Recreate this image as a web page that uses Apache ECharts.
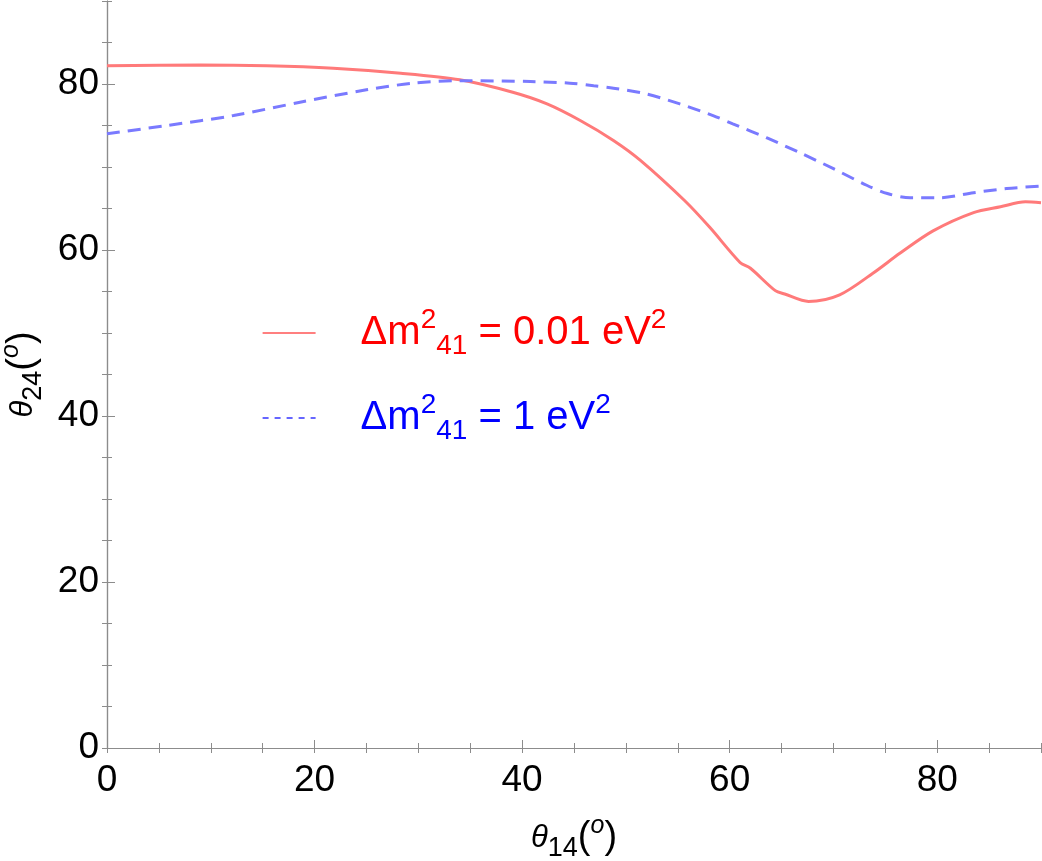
<!DOCTYPE html>
<html>
<head>
<meta charset="utf-8">
<script src="https://cdn.jsdelivr.net/npm/echarts@6/dist/echarts.min.js"></script>
<style>
  html, body { margin: 0; padding: 0; background: #fff; }
  #chart { width: 1042px; height: 861px; }
</style>
</head>
<body>
<div id="chart"></div>
<script>
(function (window, echarts) {
    'use strict';

    // red solid curve, dm41^2 = 0.01 eV^2
    const redX = [0, 9, 15.4, 21.8, 28.3, 34, 39.1, 42.4, 45.6, 48.8, 51.4, 55.7, 58.1, 61, 62, 64.4, 65.3, 67.6, 70.6, 73.8, 76.4, 79.6, 83.5, 86.1, 88.5, 90];
    const redY = [82.2, 82.3, 82.2, 81.9, 81.3, 80.5, 79.0, 77.6, 75.6, 73.2, 70.8, 65.9, 62.7, 58.5, 57.8, 55.1, 54.7, 53.8, 54.6, 57.2, 59.6, 62.3, 64.5, 65.2, 65.8, 65.7];

    // blue dashed curve, dm41^2 = 1 eV^2
    const blueX = [0, 5.8, 12.2, 18.6, 25, 29.5, 34, 40.8, 44.6, 46.9, 48.8, 52, 55.2, 58.4, 60.3, 63.6, 66.8, 70, 73.2, 75.2, 77.4, 80.3, 83.5, 86.7, 90];
    const blueY = [74.0, 75.0, 76.2, 77.8, 79.3, 80.1, 80.4, 80.3, 80.1, 79.8, 79.5, 78.8, 77.6, 76.2, 75.2, 73.5, 71.7, 69.8, 67.8, 66.8, 66.3, 66.3, 66.9, 67.4, 67.7];

    const seriesNames = ['red', 'blue'];
    const legendTexts = ['0.01', '1'];

    const FONT = 'Liberation Sans';
    const AXIS_GREY = '#8c8c8c';

    const pairs = (xs, ys) => xs.map((x, i) => [x, ys[i]]);

    // rich styles for θ_ij(°) axis names
    const nameRich = {
        t: {fontFamily: FONT, fontStyle: 'italic', fontSize: 31, lineHeight: 48},
        p: {fontFamily: FONT, fontSize: 38, lineHeight: 48},
        sub: {fontFamily: FONT, fontSize: 27, lineHeight: 34, verticalAlign: 'bottom'},
        sup: {fontFamily: FONT, fontStyle: 'italic', fontSize: 25, lineHeight: 19, verticalAlign: 'top'}
    };
    const axisName = (idx) => '{t|θ}{sub|' + idx + '}{p|(}{sup|o}{p|)}';

    // rich styles for the legend text
    const legendRich = {
        gap: {width: 40},
        m: {fontFamily: FONT, fontSize: 40, lineHeight: 54},
        sup: {fontFamily: FONT, fontSize: 28, lineHeight: 27, verticalAlign: 'top'},
        sub: {fontFamily: FONT, fontSize: 28, lineHeight: 28, verticalAlign: 'bottom'}
    };
    const legendFormat = (name) => {
        const v = legendTexts[seriesNames.indexOf(name)];
        return '{gap| }{m|Δm}{sup|2}{sub|41}{m| = ' + v + ' eV}{sup|2}';
    };

    const tickAxis = (extra) => Object.assign({
        type: 'value', min: 0, max: 90, interval: 5,
        axisLine: {show: false},
        axisTick: {show: true, inside: true, length: 5, lineStyle: {color: AXIS_GREY}},
        axisLabel: {show: false},
        splitLine: {show: false}
    }, extra);

    const hiddenSymbol = {color: 'rgba(0,0,0,0)', borderWidth: 0};

    const options = {
        animation: false,
        backgroundColor: '#ffffff',
        grid: {left: 107, right: 1, top: 1, bottom: 113, outerBoundsMode: 'none'},
        legend: {
            orient: 'vertical',
            left: 257,
            top: 301,
            itemWidth: 53,
            itemHeight: 14,
            itemGap: 31,
            selectedMode: false,
            textStyle: {fontFamily: FONT, fontSize: 40, rich: legendRich},
            formatter: legendFormat,
            data: [
                {name: 'red', lineStyle: {color: '#ff0000', width: 1.2, type: 'solid'},
                    itemStyle: hiddenSymbol, textStyle: {color: '#ff0000'}},
                {name: 'blue', lineStyle: {color: '#0000ff', width: 1.2, type: [6, 6]},
                    itemStyle: hiddenSymbol, textStyle: {color: '#0000ff'}}
            ]
        },
        xAxis: [
            {
                type: 'value', min: 0, max: 90, interval: 20, position: 'bottom',
                name: axisName('14'), nameLocation: 'middle', nameGap: 66,
                nameTextStyle: {color: '#000', rich: nameRich},
                axisLine: {show: true, lineStyle: {color: AXIS_GREY, width: 1.2}},
                axisTick: {show: true, inside: true, length: 8, lineStyle: {color: AXIS_GREY}},
                axisLabel: {show: true, color: '#000', fontFamily: FONT, fontSize: 37, margin: 14, showMaxLabel: false},
                splitLine: {show: false}
            },
            tickAxis({position: 'bottom'}),
            tickAxis({position: 'top', axisLine: {show: true, lineStyle: {color: AXIS_GREY, width: 1.2}}})
        ],
        yAxis: [
            {
                type: 'value', min: 0, max: 90, interval: 20, position: 'left',
                name: axisName('24'), nameLocation: 'middle', nameGap: 58,
                nameTextStyle: {color: '#000', rich: nameRich},
                axisLine: {show: true, lineStyle: {color: AXIS_GREY, width: 1.2}},
                axisTick: {show: true, inside: true, length: 8, lineStyle: {color: AXIS_GREY}},
                axisLabel: {show: true, color: '#000', fontFamily: FONT, fontSize: 37, margin: 8, showMaxLabel: false},
                splitLine: {show: false}
            },
            tickAxis({position: 'left'}),
            tickAxis({position: 'right', axisLine: {show: true, lineStyle: {color: AXIS_GREY, width: 1.2}}})
        ],
        series: [
            {
                name: 'red', type: 'line', symbol: 'none', smooth: 0.3,
                xAxisIndex: 0, yAxisIndex: 0,
                lineStyle: {color: '#ff7a7a', width: 3},
                itemStyle: {color: '#ff7a7a'},
                data: pairs(redX, redY)
            },
            {
                name: 'blue', type: 'line', symbol: 'none', smooth: 0.3,
                xAxisIndex: 0, yAxisIndex: 0,
                lineStyle: {color: '#7a7aff', width: 3, type: [13, 8]},
                itemStyle: {color: '#7a7aff'},
                data: pairs(blueX, blueY)
            }
        ]
    };

    const chart = echarts.init(document.getElementById('chart'), null, {renderer: 'canvas'});
    chart.setOption(options);

    window.addEventListener('resize', () => chart.resize());

})(window, echarts);
</script>
</body>
</html>
